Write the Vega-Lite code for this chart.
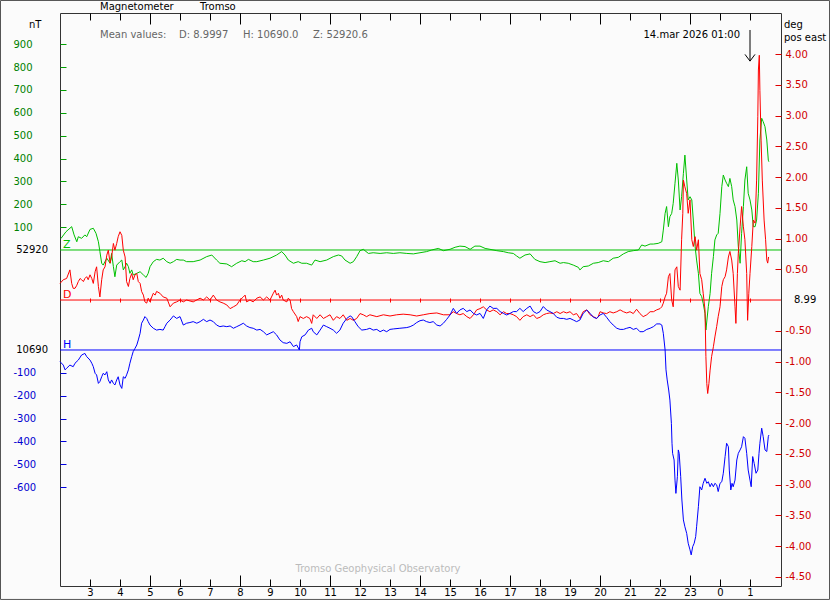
{
"$schema": "https://vega.github.io/schema/vega-lite/v6.json",
"width": 721, "height": 573,
"autosize": {"type": "none"},
"padding": {"left": 60, "top": 13, "right": 49, "bottom": 14},
"background": "#fbfbfb",
"config": {"view": {"stroke": "#333", "strokeWidth": 1}, "font": "DejaVu Sans",
  "axis": {"labelFont": "DejaVu Sans", "labelFontSize": 10, "labelFontWeight": "normal", "domain": false, "grid": false, "tickColor": "#111", "labelColor": "#111", "labelOverlap": false, "labelFlush": false},
  "text": {"font": "DejaVu Sans", "fontSize": 10, "fontWeight": "normal"}},
"datasets": {
"one": [{}],
"Z": [{"t":2.03,"v":50},{"t":2.2,"v":80},{"t":2.39,"v":102},{"t":2.47,"v":66},{"t":2.56,"v":36},{"t":2.61,"v":58},{"t":2.72,"v":51},{"t":2.83,"v":66},{"t":2.89,"v":58},{"t":3.0,"v":90},{"t":3.11,"v":95},{"t":3.2,"v":73},{"t":3.28,"v":36},{"t":3.33,"v":-7},{"t":3.39,"v":-58},{"t":3.44,"v":-66},{"t":3.56,"v":-36},{"t":3.67,"v":-58},{"t":3.72,"v":-15},{"t":3.78,"v":-73},{"t":3.83,"v":-117},{"t":3.89,"v":-66},{"t":4.0,"v":-51},{"t":4.06,"v":-44},{"t":4.11,"v":-87},{"t":4.17,"v":-73},{"t":4.22,"v":-58},{"t":4.28,"v":-73},{"t":4.33,"v":-102},{"t":4.39,"v":-87},{"t":4.44,"v":-109},{"t":4.56,"v":-102},{"t":4.67,"v":-95},{"t":4.78,"v":-109},{"t":4.87,"v":-120},{"t":4.94,"v":-102},{"t":5.0,"v":-73},{"t":5.11,"v":-51},{"t":5.22,"v":-41},{"t":5.33,"v":-44},{"t":5.44,"v":-36},{"t":5.56,"v":-51},{"t":5.67,"v":-58},{"t":5.78,"v":-51},{"t":5.89,"v":-41},{"t":6.0,"v":-44},{"t":6.11,"v":-44},{"t":6.22,"v":-51},{"t":6.44,"v":-51},{"t":6.67,"v":-44},{"t":6.89,"v":-29},{"t":7.06,"v":-22},{"t":7.22,"v":-44},{"t":7.33,"v":-58},{"t":7.56,"v":-61},{"t":7.72,"v":-73},{"t":7.89,"v":-58},{"t":8.06,"v":-47},{"t":8.17,"v":-51},{"t":8.28,"v":-41},{"t":8.44,"v":-51},{"t":8.56,"v":-51},{"t":8.78,"v":-44},{"t":9.0,"v":-36},{"t":9.22,"v":-22},{"t":9.39,"v":-7},{"t":9.5,"v":-22},{"t":9.61,"v":-44},{"t":9.78,"v":-58},{"t":9.94,"v":-51},{"t":10.06,"v":-58},{"t":10.22,"v":-58},{"t":10.39,"v":-66},{"t":10.5,"v":-44},{"t":10.67,"v":-51},{"t":10.89,"v":-44},{"t":11.11,"v":-29},{"t":11.28,"v":-22},{"t":11.39,"v":-26},{"t":11.5,"v":-44},{"t":11.67,"v":-58},{"t":11.78,"v":-51},{"t":11.89,"v":-29},{"t":12.0,"v":-3},{"t":12.11,"v":3},{"t":12.28,"v":-15},{"t":12.44,"v":-12},{"t":12.67,"v":-15},{"t":12.89,"v":-12},{"t":13.11,"v":-15},{"t":13.33,"v":-12},{"t":13.56,"v":-15},{"t":13.78,"v":-17},{"t":14.0,"v":-12},{"t":14.22,"v":-7},{"t":14.39,"v":0},{"t":14.61,"v":7},{"t":14.78,"v":-3},{"t":15.0,"v":3},{"t":15.17,"v":12},{"t":15.33,"v":17},{"t":15.5,"v":15},{"t":15.67,"v":3},{"t":15.83,"v":17},{"t":16.0,"v":17},{"t":16.17,"v":7},{"t":16.33,"v":3},{"t":16.56,"v":-3},{"t":16.78,"v":-7},{"t":16.94,"v":-12},{"t":17.11,"v":-15},{"t":17.22,"v":-26},{"t":17.33,"v":-36},{"t":17.5,"v":-22},{"t":17.67,"v":-17},{"t":17.83,"v":-41},{"t":18.0,"v":-51},{"t":18.17,"v":-55},{"t":18.33,"v":-51},{"t":18.5,"v":-47},{"t":18.67,"v":-58},{"t":18.78,"v":-55},{"t":18.94,"v":-58},{"t":19.11,"v":-66},{"t":19.28,"v":-76},{"t":19.33,"v":-87},{"t":19.44,"v":-73},{"t":19.61,"v":-70},{"t":19.78,"v":-58},{"t":19.94,"v":-55},{"t":20.11,"v":-47},{"t":20.28,"v":-51},{"t":20.44,"v":-36},{"t":20.61,"v":-32},{"t":20.78,"v":-17},{"t":20.94,"v":-7},{"t":21.11,"v":-3},{"t":21.28,"v":0},{"t":21.39,"v":22},{"t":21.5,"v":17},{"t":21.67,"v":26},{"t":21.78,"v":26},{"t":21.94,"v":29},{"t":22.06,"v":36},{"t":22.11,"v":87},{"t":22.17,"v":160},{"t":22.22,"v":190},{"t":22.28,"v":102},{"t":22.33,"v":146},{"t":22.39,"v":160},{"t":22.44,"v":204},{"t":22.5,"v":292},{"t":22.56,"v":379},{"t":22.61,"v":306},{"t":22.67,"v":175},{"t":22.72,"v":233},{"t":22.78,"v":335},{"t":22.83,"v":415},{"t":22.89,"v":306},{"t":22.94,"v":219},{"t":23.0,"v":233},{"t":23.06,"v":219},{"t":23.11,"v":131},{"t":23.17,"v":15},{"t":23.22,"v":-44},{"t":23.28,"v":-102},{"t":23.33,"v":-190},{"t":23.39,"v":-204},{"t":23.44,"v":-233},{"t":23.5,"v":-277},{"t":23.53,"v":-350},{"t":23.61,"v":-248},{"t":23.67,"v":-190},{"t":23.72,"v":-102},{"t":23.78,"v":-29},{"t":23.83,"v":44},{"t":23.89,"v":66},{"t":23.94,"v":73},{"t":24.0,"v":160},{"t":24.06,"v":277},{"t":24.11,"v":328},{"t":24.17,"v":306},{"t":24.22,"v":292},{"t":24.28,"v":277},{"t":24.33,"v":313},{"t":24.39,"v":277},{"t":24.44,"v":219},{"t":24.5,"v":190},{"t":24.56,"v":131},{"t":24.61,"v":15},{"t":24.67,"v":-58},{"t":24.72,"v":73},{"t":24.78,"v":190},{"t":24.83,"v":306},{"t":24.89,"v":364},{"t":24.94,"v":248},{"t":25.0,"v":219},{"t":25.06,"v":175},{"t":25.11,"v":102},{"t":25.17,"v":102},{"t":25.22,"v":131},{"t":25.28,"v":248},{"t":25.33,"v":481},{"t":25.39,"v":576},{"t":25.44,"v":561},{"t":25.5,"v":539},{"t":25.56,"v":481},{"t":25.61,"v":393},{"t":25.63,"v":386}],
"D": [{"t":2.0,"v":0.27},{"t":2.11,"v":0.33},{"t":2.22,"v":0.35},{"t":2.33,"v":0.49},{"t":2.39,"v":0.27},{"t":2.44,"v":0.19},{"t":2.5,"v":0.19},{"t":2.56,"v":0.24},{"t":2.61,"v":0.3},{"t":2.67,"v":0.35},{"t":2.72,"v":0.33},{"t":2.78,"v":0.3},{"t":2.83,"v":0.35},{"t":2.89,"v":0.38},{"t":2.94,"v":0.33},{"t":3.0,"v":0.41},{"t":3.06,"v":0.35},{"t":3.11,"v":0.27},{"t":3.17,"v":0.46},{"t":3.22,"v":0.54},{"t":3.28,"v":0.22},{"t":3.33,"v":0.05},{"t":3.39,"v":0.33},{"t":3.44,"v":0.49},{"t":3.5,"v":0.54},{"t":3.56,"v":0.73},{"t":3.61,"v":0.81},{"t":3.67,"v":0.6},{"t":3.72,"v":0.7},{"t":3.78,"v":0.92},{"t":3.83,"v":0.81},{"t":3.89,"v":0.92},{"t":3.94,"v":1.03},{"t":4.0,"v":1.11},{"t":4.06,"v":1.05},{"t":4.11,"v":0.81},{"t":4.17,"v":0.7},{"t":4.22,"v":0.3},{"t":4.28,"v":0.22},{"t":4.33,"v":0.35},{"t":4.39,"v":0.43},{"t":4.44,"v":0.33},{"t":4.5,"v":0.41},{"t":4.56,"v":0.43},{"t":4.61,"v":0.3},{"t":4.67,"v":0.27},{"t":4.72,"v":0.14},{"t":4.78,"v":0.08},{"t":4.83,"v":-0.03},{"t":4.89,"v":-0.05},{"t":4.94,"v":0.03},{"t":5.0,"v":-0.03},{"t":5.06,"v":0.05},{"t":5.11,"v":0.11},{"t":5.17,"v":0.08},{"t":5.22,"v":0.14},{"t":5.33,"v":0.11},{"t":5.44,"v":0.05},{"t":5.56,"v":0.03},{"t":5.67,"v":-0.11},{"t":5.78,"v":-0.05},{"t":5.89,"v":-0.03},{"t":6.0,"v":0.0},{"t":6.11,"v":-0.03},{"t":6.22,"v":0.0},{"t":6.44,"v":-0.03},{"t":6.67,"v":0.03},{"t":6.78,"v":0.0},{"t":6.89,"v":0.05},{"t":7.0,"v":0.0},{"t":7.11,"v":0.08},{"t":7.22,"v":0.0},{"t":7.33,"v":-0.03},{"t":7.44,"v":-0.05},{"t":7.56,"v":-0.08},{"t":7.67,"v":-0.14},{"t":7.78,"v":-0.11},{"t":7.89,"v":-0.08},{"t":8.0,"v":0.0},{"t":8.11,"v":0.05},{"t":8.17,"v":0.08},{"t":8.22,"v":-0.03},{"t":8.33,"v":0.0},{"t":8.44,"v":-0.03},{"t":8.56,"v":0.03},{"t":8.67,"v":0.05},{"t":8.78,"v":0.0},{"t":8.89,"v":0.05},{"t":9.0,"v":0.0},{"t":9.11,"v":0.11},{"t":9.17,"v":0.16},{"t":9.22,"v":0.08},{"t":9.28,"v":0.11},{"t":9.33,"v":0.03},{"t":9.39,"v":0.08},{"t":9.44,"v":0.0},{"t":9.56,"v":-0.03},{"t":9.61,"v":0.03},{"t":9.67,"v":0.0},{"t":9.72,"v":-0.14},{"t":9.78,"v":-0.19},{"t":9.89,"v":-0.27},{"t":9.94,"v":-0.35},{"t":10.0,"v":-0.27},{"t":10.11,"v":-0.3},{"t":10.22,"v":-0.27},{"t":10.33,"v":-0.3},{"t":10.39,"v":-0.38},{"t":10.44,"v":-0.24},{"t":10.56,"v":-0.3},{"t":10.67,"v":-0.24},{"t":10.78,"v":-0.3},{"t":10.89,"v":-0.27},{"t":11.0,"v":-0.24},{"t":11.11,"v":-0.33},{"t":11.22,"v":-0.27},{"t":11.33,"v":-0.3},{"t":11.44,"v":-0.24},{"t":11.56,"v":-0.33},{"t":11.67,"v":-0.3},{"t":11.78,"v":-0.33},{"t":11.89,"v":-0.3},{"t":12.0,"v":-0.22},{"t":12.11,"v":-0.24},{"t":12.22,"v":-0.27},{"t":12.33,"v":-0.24},{"t":12.56,"v":-0.27},{"t":12.78,"v":-0.24},{"t":13.0,"v":-0.26},{"t":13.22,"v":-0.24},{"t":13.44,"v":-0.23},{"t":13.67,"v":-0.24},{"t":13.89,"v":-0.26},{"t":14.11,"v":-0.24},{"t":14.33,"v":-0.22},{"t":14.56,"v":-0.21},{"t":14.78,"v":-0.24},{"t":15.0,"v":-0.24},{"t":15.11,"v":-0.19},{"t":15.22,"v":-0.22},{"t":15.33,"v":-0.24},{"t":15.44,"v":-0.22},{"t":15.56,"v":-0.27},{"t":15.67,"v":-0.3},{"t":15.78,"v":-0.24},{"t":15.89,"v":-0.16},{"t":16.0,"v":-0.14},{"t":16.11,"v":-0.11},{"t":16.22,"v":-0.16},{"t":16.33,"v":-0.19},{"t":16.44,"v":-0.16},{"t":16.56,"v":-0.19},{"t":16.67,"v":-0.24},{"t":16.78,"v":-0.19},{"t":16.89,"v":-0.22},{"t":17.0,"v":-0.22},{"t":17.11,"v":-0.24},{"t":17.22,"v":-0.27},{"t":17.33,"v":-0.33},{"t":17.44,"v":-0.27},{"t":17.56,"v":-0.24},{"t":17.67,"v":-0.27},{"t":17.78,"v":-0.24},{"t":17.89,"v":-0.3},{"t":18.0,"v":-0.28},{"t":18.11,"v":-0.24},{"t":18.22,"v":-0.22},{"t":18.33,"v":-0.21},{"t":18.44,"v":-0.22},{"t":18.56,"v":-0.19},{"t":18.67,"v":-0.22},{"t":18.78,"v":-0.19},{"t":18.89,"v":-0.21},{"t":19.0,"v":-0.19},{"t":19.11,"v":-0.24},{"t":19.22,"v":-0.22},{"t":19.33,"v":-0.3},{"t":19.44,"v":-0.19},{"t":19.56,"v":-0.16},{"t":19.67,"v":-0.24},{"t":19.78,"v":-0.27},{"t":19.89,"v":-0.3},{"t":19.94,"v":-0.27},{"t":20.0,"v":-0.19},{"t":20.11,"v":-0.21},{"t":20.22,"v":-0.22},{"t":20.33,"v":-0.19},{"t":20.44,"v":-0.21},{"t":20.56,"v":-0.19},{"t":20.67,"v":-0.16},{"t":20.78,"v":-0.19},{"t":20.89,"v":-0.21},{"t":21.0,"v":-0.19},{"t":21.11,"v":-0.22},{"t":21.22,"v":-0.15},{"t":21.33,"v":-0.22},{"t":21.44,"v":-0.27},{"t":21.56,"v":-0.24},{"t":21.67,"v":-0.19},{"t":21.78,"v":-0.19},{"t":21.89,"v":-0.16},{"t":22.0,"v":-0.14},{"t":22.06,"v":-0.11},{"t":22.11,"v":-0.05},{"t":22.17,"v":0.05},{"t":22.22,"v":0.11},{"t":22.28,"v":0.38},{"t":22.33,"v":0.43},{"t":22.39,"v":0.0},{"t":22.44,"v":-0.11},{"t":22.5,"v":0.49},{"t":22.56,"v":0.54},{"t":22.61,"v":0.22},{"t":22.67,"v":0.16},{"t":22.72,"v":0.98},{"t":22.76,"v":1.41},{"t":22.78,"v":1.95},{"t":22.83,"v":1.84},{"t":22.89,"v":1.73},{"t":22.94,"v":1.41},{"t":23.0,"v":1.63},{"t":23.06,"v":0.98},{"t":23.11,"v":0.87},{"t":23.17,"v":1.03},{"t":23.22,"v":0.81},{"t":23.28,"v":0.98},{"t":23.33,"v":0.43},{"t":23.39,"v":0.33},{"t":23.44,"v":0.11},{"t":23.5,"v":-0.16},{"t":23.53,"v":-0.92},{"t":23.56,"v":-1.36},{"t":23.59,"v":-1.52},{"t":23.63,"v":-1.36},{"t":23.67,"v":-1.14},{"t":23.72,"v":-0.92},{"t":23.78,"v":-0.76},{"t":23.83,"v":-0.6},{"t":23.89,"v":-0.43},{"t":23.94,"v":-0.27},{"t":24.0,"v":-0.11},{"t":24.06,"v":0.22},{"t":24.11,"v":0.33},{"t":24.17,"v":0.38},{"t":24.22,"v":0.49},{"t":24.28,"v":0.7},{"t":24.33,"v":0.79},{"t":24.39,"v":0.65},{"t":24.44,"v":0.43},{"t":24.5,"v":-0.11},{"t":24.53,"v":-0.38},{"t":24.58,"v":0.43},{"t":24.61,"v":0.76},{"t":24.67,"v":1.19},{"t":24.72,"v":1.52},{"t":24.78,"v":1.19},{"t":24.83,"v":0.98},{"t":24.89,"v":0.43},{"t":24.92,"v":-0.33},{"t":24.96,"v":0.11},{"t":25.0,"v":0.43},{"t":25.06,"v":0.87},{"t":25.11,"v":1.3},{"t":25.17,"v":1.25},{"t":25.22,"v":1.95},{"t":25.26,"v":2.98},{"t":25.28,"v":3.74},{"t":25.31,"v":3.98},{"t":25.33,"v":3.41},{"t":25.37,"v":2.6},{"t":25.41,"v":1.95},{"t":25.47,"v":1.3},{"t":25.52,"v":0.98},{"t":25.56,"v":0.65},{"t":25.59,"v":0.6},{"t":25.62,"v":0.7}],
"H": [{"t":2.0,"v":-51},{"t":2.11,"v":-66},{"t":2.17,"v":-87},{"t":2.22,"v":-80},{"t":2.33,"v":-66},{"t":2.44,"v":-73},{"t":2.5,"v":-58},{"t":2.61,"v":-44},{"t":2.72,"v":-22},{"t":2.83,"v":-15},{"t":2.89,"v":-29},{"t":3.0,"v":-44},{"t":3.06,"v":-58},{"t":3.11,"v":-73},{"t":3.17,"v":-102},{"t":3.22,"v":-109},{"t":3.28,"v":-146},{"t":3.33,"v":-138},{"t":3.39,"v":-117},{"t":3.44,"v":-102},{"t":3.5,"v":-109},{"t":3.56,"v":-95},{"t":3.61,"v":-131},{"t":3.67,"v":-146},{"t":3.72,"v":-131},{"t":3.78,"v":-146},{"t":3.83,"v":-153},{"t":3.89,"v":-131},{"t":3.94,"v":-117},{"t":4.0,"v":-153},{"t":4.06,"v":-168},{"t":4.11,"v":-117},{"t":4.17,"v":-124},{"t":4.22,"v":-109},{"t":4.28,"v":-87},{"t":4.33,"v":-58},{"t":4.39,"v":-29},{"t":4.44,"v":-7},{"t":4.5,"v":7},{"t":4.56,"v":22},{"t":4.61,"v":44},{"t":4.67,"v":73},{"t":4.72,"v":117},{"t":4.78,"v":131},{"t":4.83,"v":146},{"t":4.89,"v":138},{"t":4.94,"v":124},{"t":5.0,"v":109},{"t":5.11,"v":95},{"t":5.22,"v":87},{"t":5.33,"v":90},{"t":5.44,"v":87},{"t":5.5,"v":102},{"t":5.56,"v":117},{"t":5.67,"v":131},{"t":5.78,"v":149},{"t":5.89,"v":138},{"t":6.0,"v":146},{"t":6.11,"v":109},{"t":6.22,"v":117},{"t":6.33,"v":120},{"t":6.44,"v":124},{"t":6.56,"v":117},{"t":6.67,"v":124},{"t":6.78,"v":134},{"t":6.89,"v":124},{"t":7.0,"v":131},{"t":7.11,"v":124},{"t":7.22,"v":109},{"t":7.33,"v":102},{"t":7.44,"v":105},{"t":7.56,"v":102},{"t":7.67,"v":105},{"t":7.78,"v":95},{"t":7.89,"v":102},{"t":8.0,"v":109},{"t":8.11,"v":117},{"t":8.22,"v":105},{"t":8.33,"v":98},{"t":8.44,"v":95},{"t":8.56,"v":87},{"t":8.67,"v":90},{"t":8.78,"v":80},{"t":8.89,"v":66},{"t":9.0,"v":73},{"t":9.11,"v":80},{"t":9.22,"v":66},{"t":9.33,"v":44},{"t":9.44,"v":32},{"t":9.56,"v":29},{"t":9.67,"v":36},{"t":9.78,"v":15},{"t":9.89,"v":22},{"t":9.98,"v":0},{"t":10.0,"v":36},{"t":10.06,"v":58},{"t":10.17,"v":66},{"t":10.28,"v":87},{"t":10.39,"v":95},{"t":10.44,"v":80},{"t":10.56,"v":66},{"t":10.67,"v":87},{"t":10.78,"v":109},{"t":10.89,"v":102},{"t":11.0,"v":95},{"t":11.11,"v":87},{"t":11.22,"v":73},{"t":11.33,"v":87},{"t":11.44,"v":117},{"t":11.56,"v":138},{"t":11.67,"v":149},{"t":11.72,"v":146},{"t":11.83,"v":124},{"t":11.94,"v":102},{"t":12.06,"v":87},{"t":12.22,"v":90},{"t":12.33,"v":95},{"t":12.44,"v":87},{"t":12.56,"v":90},{"t":12.67,"v":80},{"t":12.78,"v":87},{"t":12.89,"v":80},{"t":13.0,"v":90},{"t":13.11,"v":92},{"t":13.33,"v":95},{"t":13.56,"v":98},{"t":13.67,"v":102},{"t":13.78,"v":109},{"t":13.89,"v":120},{"t":14.0,"v":128},{"t":14.11,"v":131},{"t":14.22,"v":124},{"t":14.33,"v":120},{"t":14.44,"v":124},{"t":14.56,"v":109},{"t":14.67,"v":105},{"t":14.78,"v":117},{"t":14.89,"v":134},{"t":15.0,"v":153},{"t":15.11,"v":182},{"t":15.22,"v":160},{"t":15.33,"v":175},{"t":15.44,"v":182},{"t":15.56,"v":168},{"t":15.67,"v":175},{"t":15.78,"v":160},{"t":15.89,"v":153},{"t":16.0,"v":160},{"t":16.11,"v":138},{"t":16.22,"v":175},{"t":16.33,"v":192},{"t":16.44,"v":182},{"t":16.56,"v":182},{"t":16.67,"v":168},{"t":16.78,"v":160},{"t":16.89,"v":153},{"t":17.0,"v":160},{"t":17.11,"v":168},{"t":17.22,"v":168},{"t":17.33,"v":182},{"t":17.44,"v":168},{"t":17.56,"v":182},{"t":17.67,"v":192},{"t":17.78,"v":168},{"t":17.89,"v":160},{"t":18.0,"v":168},{"t":18.11,"v":190},{"t":18.22,"v":175},{"t":18.33,"v":168},{"t":18.44,"v":160},{"t":18.56,"v":143},{"t":18.67,"v":138},{"t":18.78,"v":138},{"t":18.89,"v":134},{"t":19.0,"v":138},{"t":19.11,"v":131},{"t":19.22,"v":124},{"t":19.33,"v":131},{"t":19.44,"v":160},{"t":19.56,"v":175},{"t":19.67,"v":160},{"t":19.78,"v":143},{"t":19.89,"v":138},{"t":20.0,"v":153},{"t":20.11,"v":160},{"t":20.22,"v":143},{"t":20.33,"v":124},{"t":20.44,"v":109},{"t":20.56,"v":95},{"t":20.67,"v":90},{"t":20.78,"v":90},{"t":20.89,"v":95},{"t":21.0,"v":99},{"t":21.11,"v":90},{"t":21.22,"v":95},{"t":21.33,"v":80},{"t":21.44,"v":80},{"t":21.56,"v":90},{"t":21.67,"v":95},{"t":21.78,"v":102},{"t":21.89,"v":114},{"t":22.0,"v":114},{"t":22.06,"v":109},{"t":22.11,"v":73},{"t":22.17,"v":0},{"t":22.2,"v":-87},{"t":22.24,"v":-131},{"t":22.29,"v":-175},{"t":22.33,"v":-219},{"t":22.38,"v":-321},{"t":22.4,"v":-408},{"t":22.42,"v":-452},{"t":22.47,"v":-481},{"t":22.5,"v":-569},{"t":22.53,"v":-627},{"t":22.58,"v":-554},{"t":22.61,"v":-437},{"t":22.64,"v":-452},{"t":22.69,"v":-554},{"t":22.73,"v":-656},{"t":22.78,"v":-743},{"t":22.83,"v":-773},{"t":22.89,"v":-802},{"t":22.94,"v":-845},{"t":23.0,"v":-874},{"t":23.04,"v":-896},{"t":23.09,"v":-860},{"t":23.14,"v":-845},{"t":23.19,"v":-816},{"t":23.22,"v":-773},{"t":23.28,"v":-685},{"t":23.33,"v":-598},{"t":23.39,"v":-612},{"t":23.44,"v":-583},{"t":23.5,"v":-561},{"t":23.56,"v":-583},{"t":23.61,"v":-576},{"t":23.67,"v":-598},{"t":23.72,"v":-583},{"t":23.78,"v":-598},{"t":23.83,"v":-583},{"t":23.89,"v":-590},{"t":23.94,"v":-619},{"t":24.0,"v":-583},{"t":24.06,"v":-576},{"t":24.11,"v":-539},{"t":24.17,"v":-466},{"t":24.22,"v":-408},{"t":24.28,"v":-423},{"t":24.31,"v":-525},{"t":24.36,"v":-612},{"t":24.4,"v":-583},{"t":24.44,"v":-598},{"t":24.5,"v":-569},{"t":24.56,"v":-481},{"t":24.61,"v":-452},{"t":24.67,"v":-437},{"t":24.72,"v":-423},{"t":24.78,"v":-379},{"t":24.83,"v":-386},{"t":24.89,"v":-452},{"t":24.94,"v":-525},{"t":25.0,"v":-569},{"t":25.04,"v":-598},{"t":25.09,"v":-466},{"t":25.14,"v":-496},{"t":25.2,"v":-539},{"t":25.26,"v":-525},{"t":25.3,"v":-452},{"t":25.33,"v":-408},{"t":25.39,"v":-342},{"t":25.44,"v":-379},{"t":25.5,"v":-437},{"t":25.56,"v":-444},{"t":25.61,"v":-379},{"t":25.63,"v":-372}]
},
"resolve": {"scale": {"x": "independent", "y": "independent"}},
"layer": [
 {"data": {"name": "one"}, "mark": {"type": "rect", "fillOpacity": 0, "stroke": "#555", "strokeWidth": 1},
  "encoding": {"x": {"datum": 0.0167, "type": "quantitative", "scale": {"domain": [2, 26.0333], "nice": false, "zero": false}, "axis": null}, "x2": {"datum": 27.65},
   "y": {"datum": 1091, "type": "quantitative", "scale": {"domain": [-1469.2, 1036.3], "nice": false, "zero": false}, "axis": null}, "y2": {"datum": -1528}}},
 {"data": {"name": "one"}, "mark": {"type": "rule", "color": "#00c000", "strokeWidth": 1},
  "encoding": {"y": {"datum": 0, "type": "quantitative", "scale": {"domain": [-1469.2, 1036.3], "nice": false, "zero": false}, "axis": null}}},
 {"data": {"name": "one"}, "mark": {"type": "rule", "color": "#ff0000", "strokeWidth": 1},
  "encoding": {"y": {"datum": 0, "type": "quantitative", "scale": {"domain": [-4.65, 4.667], "nice": false, "zero": false}, "axis": null}}},
 {"data": {"name": "one"}, "mark": {"type": "rule", "color": "#0000ff", "strokeWidth": 1},
  "encoding": {"y": {"datum": 0, "type": "quantitative", "scale": {"domain": [-1032, 1473.5], "nice": false, "zero": false}, "axis": null}}},
 {"data": {"name": "Z"}, "mark": {"type": "line", "color": "#00c000", "strokeWidth": 1},
  "encoding": {
   "x": {"field": "t", "type": "quantitative", "scale": {"domain": [2, 26.0333], "nice": false, "zero": false},
     "axis": {"orient": "bottom", "values": [3,4,5,6,7,8,9,10,11,12,13,14,15,16,17,18,19,20,21,22,23,24,25], "tickSize": -7, "labelPadding": 8, "labelExpr": "toString(datum.value % 24)", "labelColor": "#000", "tickColor": "#000", "labelOverlap": false, "title": null}},
   "y": {"field": "v", "type": "quantitative", "scale": {"domain": [-1469.2, 1036.3], "nice": false, "zero": false},
     "axis": {"orient": "left", "values": [100,200,300,400,500,600,700,800,900], "tickSize": -6, "tickColor": "#00a000", "labelAlign": "left", "labelBaseline": "middle", "labelPadding": 53, "labelColor": "#008000", "labelExpr": "toString(datum.value)", "labelOverlap": false, "title": null}}}},
 {"data": {"name": "D"}, "mark": {"type": "line", "color": "#ff0000", "strokeWidth": 1},
  "encoding": {
   "x": {"field": "t", "type": "quantitative", "scale": {"domain": [2, 26.0333], "nice": false, "zero": false},
     "axis": {"orient": "top", "values": [3,4,5,6,7,8,9,10,11,12,13,14,15,16,17,18,19,20,21,22,23,24,25], "tickSize": -7, "labelExpr": "''", "tickColor": "#000", "title": null}},
   "y": {"field": "v", "type": "quantitative", "scale": {"domain": [-4.65, 4.667], "nice": false, "zero": false},
     "axis": {"orient": "right", "values": [4,3.5,3,2.5,2,1.5,1,0.5,-0.5,-1,-1.5,-2,-2.5,-3,-3.5,-4,-4.5], "tickSize": -6, "tickColor": "#e00000", "labelAlign": "left", "labelBaseline": "middle", "labelPadding": 10, "labelColor": "#d00000",
       "labelExpr": "replace(format(datum.value, '.2f'), '\u2212', '-')", "labelOverlap": false, "title": null}}}},
 {"data": {"name": "H"}, "mark": {"type": "line", "color": "#0000ff", "strokeWidth": 1},
  "encoding": {
   "x": {"field": "t", "type": "quantitative", "scale": {"domain": [2, 26.0333], "nice": false, "zero": false},
     "axis": {"orient": "bottom", "values": [5,8,11,14,17,20,23], "tickSize": -11, "labelExpr": "''", "tickColor": "#000", "title": null}},
   "y": {"field": "v", "type": "quantitative", "scale": {"domain": [-1032, 1473.5], "nice": false, "zero": false},
     "axis": {"orient": "left", "values": [-100,-200,-300,-400,-500,-600], "tickSize": -6, "tickColor": "#0000e0", "labelAlign": "left", "labelBaseline": "middle", "labelPadding": 53, "labelColor": "#0000d0", "labelExpr": "toString(datum.value)", "labelOverlap": false, "title": null}}}},
 {"data": {"name": "one"}, "mark": {"type": "point", "opacity": 0},
  "encoding": {"x": {"datum": 2, "type": "quantitative", "scale": {"domain": [2, 26.0333], "nice": false, "zero": false},
    "axis": {"orient": "top", "values": [5,8,11,14,17,20,23], "tickSize": -11, "labelExpr": "''", "tickColor": "#000", "title": null}}}},
 {"data": {"name": "one"}, "mark": {"type": "point", "opacity": 0},
  "encoding": {"x": {"datum": 2, "type": "quantitative", "scale": {"domain": [2, 26.0333], "nice": false, "zero": false},
    "axis": {"orient": "bottom", "offset": -288, "values": [3,4,5,6,7,8,9,10,11,12,13,14,15,16,17,18,19,20,21,22,23,24,25], "tickSize": 4, "labelExpr": "''", "tickColor": "#ff0000", "title": null}}}},
 {"data": {"name": "one"}, "mark": {"type": "text", "text": "Z", "color": "#00c000", "align": "left", "baseline": "alphabetic", "dx": 3, "dy": -2, "fontSize": 11},
  "encoding": {"x": {"datum": 2, "type": "quantitative", "scale": {"domain": [2, 26.0333], "nice": false, "zero": false}, "axis": null}, "y": {"datum": 0, "type": "quantitative", "scale": {"domain": [-1469.2, 1036.3], "nice": false, "zero": false}, "axis": null}}},
 {"data": {"name": "one"}, "mark": {"type": "text", "text": "D", "color": "#ff0000", "align": "left", "baseline": "alphabetic", "dx": 3, "dy": -2, "fontSize": 11},
  "encoding": {"x": {"datum": 2, "type": "quantitative", "scale": {"domain": [2, 26.0333], "nice": false, "zero": false}, "axis": null}, "y": {"datum": 0, "type": "quantitative", "scale": {"domain": [-4.65, 4.667], "nice": false, "zero": false}, "axis": null}}},
 {"data": {"name": "one"}, "mark": {"type": "text", "text": "H", "color": "#0000ff", "align": "left", "baseline": "alphabetic", "dx": 3, "dy": -2, "fontSize": 11},
  "encoding": {"x": {"datum": 2, "type": "quantitative", "scale": {"domain": [2, 26.0333], "nice": false, "zero": false}, "axis": null}, "y": {"datum": 0, "type": "quantitative", "scale": {"domain": [-1032, 1473.5], "nice": false, "zero": false}, "axis": null}}},
 {"data": {"name": "one"}, "mark": {"type": "text", "text": "52920", "color": "#000", "align": "right", "baseline": "middle"},
  "encoding": {"x": {"datum": 1.6, "type": "quantitative", "scale": {"domain": [2, 26.0333], "nice": false, "zero": false}, "axis": null}, "y": {"datum": 0, "type": "quantitative", "scale": {"domain": [-1469.2, 1036.3], "nice": false, "zero": false}, "axis": null}}},
 {"data": {"name": "one"}, "mark": {"type": "text", "text": "10690", "color": "#000", "align": "right", "baseline": "middle"},
  "encoding": {"x": {"datum": 1.6, "type": "quantitative", "scale": {"domain": [2, 26.0333], "nice": false, "zero": false}, "axis": null}, "y": {"datum": 0, "type": "quantitative", "scale": {"domain": [-1032, 1473.5], "nice": false, "zero": false}, "axis": null}}},
 {"data": {"name": "one"}, "mark": {"type": "text", "text": "8.99", "color": "#000", "align": "left", "baseline": "middle"},
  "encoding": {"x": {"datum": 26.4667, "type": "quantitative", "scale": {"domain": [2, 26.0333], "nice": false, "zero": false}, "axis": null}, "y": {"datum": 0, "type": "quantitative", "scale": {"domain": [-4.65, 4.667], "nice": false, "zero": false}, "axis": null}}},
 {"data": {"name": "one"}, "mark": {"type": "text", "text": "nT", "color": "#000", "align": "left", "baseline": "alphabetic"},
  "encoding": {"x": {"datum": 0.9667, "type": "quantitative", "scale": {"domain": [2, 26.0333], "nice": false, "zero": false}, "axis": null}, "y": {"datum": 969, "type": "quantitative", "scale": {"domain": [-1469.2, 1036.3], "nice": false, "zero": false}, "axis": null}}},
 {"data": {"name": "one"}, "mark": {"type": "text", "text": "deg", "color": "#000", "align": "left", "baseline": "alphabetic"},
  "encoding": {"x": {"datum": 26.1333, "type": "quantitative", "scale": {"domain": [2, 26.0333], "nice": false, "zero": false}, "axis": null}, "y": {"datum": 4.418, "type": "quantitative", "scale": {"domain": [-4.65, 4.667], "nice": false, "zero": false}, "axis": null}}},
 {"data": {"name": "one"}, "mark": {"type": "text", "text": "pos east", "color": "#000", "align": "left", "baseline": "alphabetic"},
  "encoding": {"x": {"datum": 26.1333, "type": "quantitative", "scale": {"domain": [2, 26.0333], "nice": false, "zero": false}, "axis": null}, "y": {"datum": 4.216, "type": "quantitative", "scale": {"domain": [-4.65, 4.667], "nice": false, "zero": false}, "axis": null}}},
 {"data": {"name": "one"}, "mark": {"type": "text", "text": "Magnetometer", "color": "#000", "align": "left", "baseline": "alphabetic"},
  "encoding": {"x": {"datum": 3.3333, "type": "quantitative", "scale": {"domain": [2, 26.0333], "nice": false, "zero": false}, "axis": null}, "y": {"datum": 1050, "type": "quantitative", "scale": {"domain": [-1469.2, 1036.3], "nice": false, "zero": false}, "axis": null}}},
 {"data": {"name": "one"}, "mark": {"type": "text", "text": "Tromso", "color": "#000", "align": "left", "baseline": "alphabetic"},
  "encoding": {"x": {"datum": 6.6667, "type": "quantitative", "scale": {"domain": [2, 26.0333], "nice": false, "zero": false}, "axis": null}, "y": {"datum": 1050, "type": "quantitative", "scale": {"domain": [-1469.2, 1036.3], "nice": false, "zero": false}, "axis": null}}},
 {"data": {"name": "one"}, "mark": {"type": "text", "text": "Mean values:", "color": "#666", "align": "left", "baseline": "alphabetic"},
  "encoding": {"x": {"datum": 3.3333, "type": "quantitative", "scale": {"domain": [2, 26.0333], "nice": false, "zero": false}, "axis": null}, "y": {"datum": 928, "type": "quantitative", "scale": {"domain": [-1469.2, 1036.3], "nice": false, "zero": false}, "axis": null}}},
 {"data": {"name": "one"}, "mark": {"type": "text", "text": "D: 8.9997", "color": "#666", "align": "left", "baseline": "alphabetic"},
  "encoding": {"x": {"datum": 5.9667, "type": "quantitative", "scale": {"domain": [2, 26.0333], "nice": false, "zero": false}, "axis": null}, "y": {"datum": 928, "type": "quantitative", "scale": {"domain": [-1469.2, 1036.3], "nice": false, "zero": false}, "axis": null}}},
 {"data": {"name": "one"}, "mark": {"type": "text", "text": "H: 10690.0", "color": "#666", "align": "left", "baseline": "alphabetic"},
  "encoding": {"x": {"datum": 8.1, "type": "quantitative", "scale": {"domain": [2, 26.0333], "nice": false, "zero": false}, "axis": null}, "y": {"datum": 928, "type": "quantitative", "scale": {"domain": [-1469.2, 1036.3], "nice": false, "zero": false}, "axis": null}}},
 {"data": {"name": "one"}, "mark": {"type": "text", "text": "Z: 52920.6", "color": "#666", "align": "left", "baseline": "alphabetic"},
  "encoding": {"x": {"datum": 10.4333, "type": "quantitative", "scale": {"domain": [2, 26.0333], "nice": false, "zero": false}, "axis": null}, "y": {"datum": 928, "type": "quantitative", "scale": {"domain": [-1469.2, 1036.3], "nice": false, "zero": false}, "axis": null}}},
 {"data": {"name": "one"}, "mark": {"type": "text", "text": "14.mar 2026 01:00", "color": "#000", "align": "right", "baseline": "alphabetic"},
  "encoding": {"x": {"datum": 24.667, "type": "quantitative", "scale": {"domain": [2, 26.0333], "nice": false, "zero": false}, "axis": null}, "y": {"datum": 928, "type": "quantitative", "scale": {"domain": [-1469.2, 1036.3], "nice": false, "zero": false}, "axis": null}}},
 {"data": {"name": "one"}, "mark": {"type": "text", "text": "Tromso Geophysical Observatory", "color": "#bbbbbb", "align": "center", "baseline": "alphabetic"},
  "encoding": {"x": {"datum": 12.6, "type": "quantitative", "scale": {"domain": [2, 26.0333], "nice": false, "zero": false}, "axis": null}, "y": {"datum": -969, "type": "quantitative", "scale": {"domain": [-1032, 1473.5], "nice": false, "zero": false}, "axis": null}}},
 {"data": {"name": "one"}, "mark": {"type": "rule", "color": "#000", "strokeWidth": 1},
  "encoding": {"x": {"datum": 25, "type": "quantitative", "scale": {"domain": [2, 26.0333], "nice": false, "zero": false}, "axis": null}, "y": {"datum": 962, "type": "quantitative", "scale": {"domain": [-1469.2, 1036.3], "nice": false, "zero": false}, "axis": null}, "y2": {"datum": 826}}},
 {"data": {"name": "one"}, "mark": {"type": "point", "shape": "M-1,-1.34L0,0L1,-1.34", "filled": false, "stroke": "#000", "strokeWidth": 1, "size": 100, "opacity": 1},
  "encoding": {"x": {"datum": 25, "type": "quantitative", "scale": {"domain": [2, 26.0333], "nice": false, "zero": false}, "axis": null}, "y": {"datum": 826, "type": "quantitative", "scale": {"domain": [-1469.2, 1036.3], "nice": false, "zero": false}, "axis": null}}}
]
}
